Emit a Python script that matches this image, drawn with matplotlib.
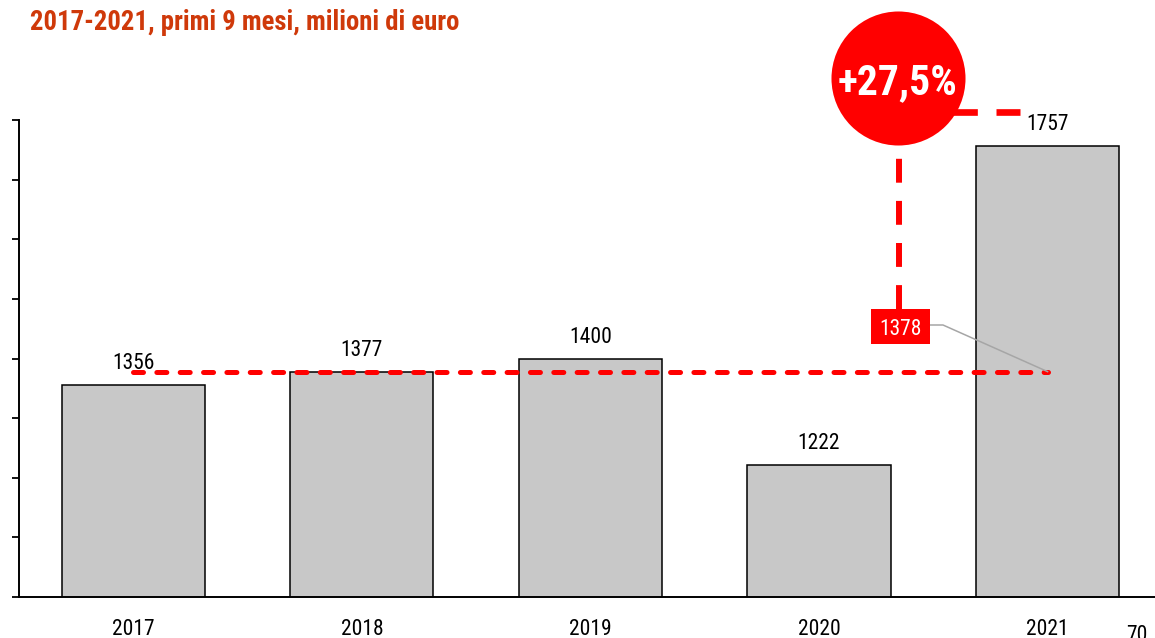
import matplotlib
matplotlib.use('Agg')
import matplotlib.pyplot as plt
from matplotlib.patches import Rectangle
from matplotlib import font_manager as fm
import numpy as np

# ---- data ----
years = ['2017', '2018', '2019', '2020', '2021']
values = [1356, 1377, 1400, 1222, 1757]
avg_ref = 1378            # average 2017-2019
growth_label = '+27,5%'
avg_label = '1378'
title = '2017-2021, primi 9 mesi, milioni di euro'
page_number = '70'
y_ticks = [1000, 1100, 1200, 1300, 1400, 1500, 1600, 1700, 1800]

PREF = ['Liberation Sans Narrow', 'Nimbus Sans Narrow', 'Arial Narrow', 'Roboto Condensed',
        'PT Sans Narrow', 'Archivo Narrow', 'Barlow Semi Condensed']


def _w(f):
    w = f.weight
    if isinstance(w, str):
        return {'normal': 400, 'regular': 400, 'bold': 700}.get(w.lower(), 400)
    return int(w)


def pick(bold, size):
    for n in PREF:
        for f in fm.fontManager.ttflist:
            if f.name == n and f.style == 'normal' and 'italic' not in f.fname.lower():
                w = _w(f)
                if (bold and w == 700) or (not bold and w == 400):
                    return fm.FontProperties(fname=f.fname, size=size)
    return fm.FontProperties(family='Liberation Sans', weight='bold' if bold else 'normal',
                             size=size)


fp_lab = pick(False, 15.5)
fp_tick = pick(False, 15.5)
fp_box = pick(False, 15.5)
fp_title = pick(True, 19.3)
fp_circ = pick(True, 30)

W, H = 1155, 638
fig = plt.figure(figsize=(W / 100, H / 100), dpi=100)
ax = fig.add_axes([19 / W, (H - 597) / H, (W - 19) / W, (597 - 120) / H])

x = np.arange(len(years))
ax.bar(x, values, width=0.626, color='#C8C8C8', edgecolor='black', linewidth=1.1, zorder=2)
ax.set_xlim(-0.5, 4.47)
ax.set_ylim(1000, 1800)

for s in ['top', 'right']:
    ax.spines[s].set_visible(False)
for s in ['left', 'bottom']:
    ax.spines[s].set_linewidth(1.4)

ax.set_yticks(y_ticks)
ax.tick_params(axis='y', length=5, width=1.3, labelleft=False, direction='out')
ax.set_xticks(x)
ax.set_xticklabels(years)
for lbl in ax.get_xticklabels():
    lbl.set_fontproperties(fp_tick)
ax.tick_params(axis='x', length=0, pad=15.5)

# value labels
for xi, v in zip(x, values):
    ax.annotate(str(v), (xi, v), xytext=(0, 11.5), textcoords='offset points',
                ha='center', va='baseline', fontproperties=fp_lab, zorder=3)

# average dashed line
ax.plot([x[0], x[-1]], [avg_ref, avg_ref], color='#FF0000', lw=3.6,
        linestyle=(0, (2.0, 2.67)), dash_capstyle='round', zorder=4)


def px(xp, yp):
    """reference pixel (from top-left) -> data coords"""
    return ax.transData.inverted().transform((xp, H - yp))


# gray leader line from box to end of avg line
p1 = px(930, 325)
p2 = px(943, 325)
ax.plot([p1[0], p2[0], x[-1]], [p1[1], p2[1], avg_ref], color='#A6A6A6', lw=1.1,
        zorder=5, clip_on=False)

# vertical dashed connector from box up to circle
vb = px(899, 309)
vt = px(899, 78)
ax.plot([vb[0], vt[0]], [vb[1], vt[1]], color='#FF0000', lw=4.3,
        linestyle=(0, (4.0, 3.05)), dash_capstyle='butt', clip_on=False, zorder=5)

# horizontal dashed connector from 2021 label to circle
hr = px(1020, 112)
hl = px(898, 112)
ax.plot([hr[0], hl[0]], [hr[1], hl[1]], color='#FF0000', lw=4.8,
        linestyle=(0, (3.6, 2.8)), dash_capstyle='butt', clip_on=False, zorder=5)

# circle with growth
cc = px(898, 78)
ax.plot([cc[0]], [cc[1]], marker='o', ms=96.5, color='#FF0000', mec='none',
        clip_on=False, zorder=6)
cb = px(898, 94)
ax.text(cb[0], cb[1], growth_label, color='white', fontproperties=fp_circ,
        ha='center', va='baseline', zorder=7, clip_on=False)

# red box with avg label
bl = px(871, 344)
tr = px(930, 309)
ax.add_patch(Rectangle((bl[0], bl[1]), tr[0] - bl[0], tr[1] - bl[1], facecolor='#FF0000',
                       edgecolor='none', zorder=6, clip_on=False))
tb = px(900.5, 335)
ax.text(tb[0], tb[1], avg_label, color='white', fontproperties=fp_box, ha='center',
        va='baseline', zorder=7, clip_on=False)

# title
fig.text(30 / W, 1 - 30 / H, title, color='#CF390A', fontproperties=fp_title,
         ha='left', va='baseline')

# page number (partially cut in the reference)
fig.text(1137 / W, 1 - 625 / H, page_number, fontproperties=fp_lab, ha='center', va='top')

fig.savefig('out.png', dpi=100)
